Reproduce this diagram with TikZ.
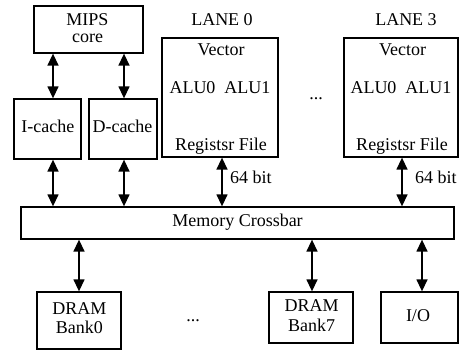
\documentclass[tikz,border=0pt]{standalone}
\usepackage{fontspec}
\setmainfont{Liberation Serif}
\usetikzlibrary{arrows.meta}
\begin{document}
\begin{tikzpicture}[x=1pt,y=-1pt,
  box/.style={draw, line width=1.3pt, inner sep=0pt},
  lbl/.style={inner sep=0pt, anchor=base, font=\fontsize{18}{20}\selectfont},
  biarr/.style={line width=1.4pt, {Triangle[length=12pt,width=11pt]}-{Triangle[length=12pt,width=11pt]}}]
\useasboundingbox (0,0) rectangle (459,350);
% boxes
\node[box, minimum width=109pt, minimum height=47pt] (mips) at (88.5,29.5) {};
\node[box, minimum width=67pt, minimum height=60pt] (icache) at (47.5,129) {};
\node[box, minimum width=68pt, minimum height=60pt] (dcache) at (123,129) {};
\node[box, minimum width=116pt, minimum height=119pt] (lane0) at (220,97.5) {};
\node[box, minimum width=114pt, minimum height=119pt] (lane3) at (401,97.5) {};
\node[box, minimum width=433pt, minimum height=32pt] (xbar) at (237.5,223) {};
\node[box, minimum width=84pt, minimum height=57pt] (bank0) at (79,320.5) {};
\node[box, minimum width=84pt, minimum height=51pt] (bank7) at (311,317.5) {};
\node[box, minimum width=77pt, minimum height=51pt] (io) at (419.5,317.5) {};
% texts
\node[lbl] (tmips) at (87.5,26) {MIPS};
\node[lbl] (tcore) at (87.5,43) {core};
\node[lbl] (ticache) at (47.8,133) {I-cache};
\node[lbl] (tdcache) at (122.5,133) {D-cache};
\node[lbl] (tlane0) at (222,26) {LANE 0};
\node[lbl] (tlane3) at (406,26) {LANE 3};
\node[lbl] (tvec0) at (221,56) {Vector};
\node[lbl] (talu0) at (220,94) {ALU0 \ ALU1};
\node[lbl] (treg0) at (221,151) {Registsr File};
\node[lbl] (tvec3) at (402.5,56) {Vector};
\node[lbl] (talu3) at (401,94) {ALU0 \ ALU1};
\node[lbl] (treg3) at (402,151) {Registsr File};
\node[lbl] (tdots1) at (316,100) {...};
\node[lbl, anchor=base west] (tbit0) at (230,184) {64 bit};
\node[lbl, anchor=base west] (tbit3) at (415,184) {64 bit};
\node[lbl] (txbar) at (237.5,226.7) {Memory Crossbar};
\node[lbl] (tdram0) at (79.3,315) {DRAM};
\node[lbl] (tbank0) at (79.3,334) {Bank0};
\node[lbl] (tdram7) at (311.7,311.7) {DRAM};
\node[lbl] (tbank7) at (311.7,331.7) {Bank7};
\node[lbl] (tio) at (418,322) {I/O};
\node[lbl] (tdots2) at (193,322) {...};
% arrows
\draw[biarr] (mips.south -| 53,0) -- (icache.north -| 53,0);
\draw[biarr] (mips.south -| 124,0) -- (dcache.north -| 124,0);
\draw[biarr] (icache.south -| 53,0) -- (xbar.north -| 53,0);
\draw[biarr] (dcache.south -| 124,0) -- (xbar.north -| 124,0);
\draw[biarr] (lane0.south -| 222,0) -- (xbar.north -| 222,0);
\draw[biarr] (lane3.south -| 402,0) -- (xbar.north -| 402,0);
\draw[biarr] (xbar.south -| 79,0) -- (bank0.north -| 79,0);
\draw[biarr] (xbar.south -| 312,0) -- (bank7.north -| 312,0);
\draw[biarr] (xbar.south -| 422,0) -- (io.north -| 422,0);
\end{tikzpicture}
\end{document}
